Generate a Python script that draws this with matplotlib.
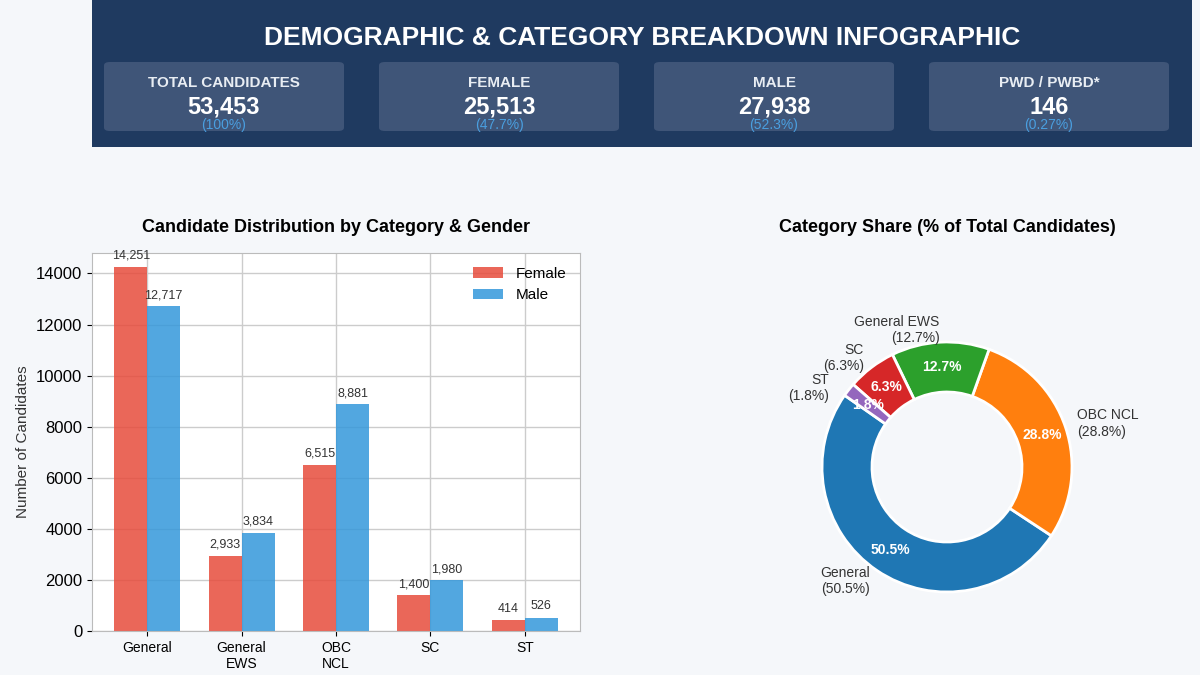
import numpy as np
import matplotlib.pyplot as plt
from matplotlib.patches import FancyBboxPatch, Rectangle

categories = ["General", "General\nEWS", "OBC\nNCL", "SC", "ST"]
pie_names = ["General", "General EWS", "OBC NCL", "SC", "ST"]
female = [14251, 2933, 6515, 1400, 414]
male = [12717, 3834, 8881, 1980, 526]
cards = [("TOTAL CANDIDATES", "53,453", "(100%)"),
         ("FEMALE", "25,513", "(47.7%)"),
         ("MALE", "27,938", "(52.3%)"),
         ("PWD / PWBD*", "146", "(0.27%)")]

plt.rcParams['font.family'] = ['Liberation Sans', 'DejaVu Sans']
fig = plt.figure(figsize=(12, 6.75), dpi=100)
fig.patch.set_facecolor("#f5f7fa")
W, H = 1200, 675

def fx(x): return x / W
def fy(y): return 1 - y / H

fig.patches.append(Rectangle((fx(92), fy(147)), fx(1100), 147 / H, transform=fig.transFigure,
                             facecolor="#1f3a60", edgecolor="none"))
fig.text(fx(642), fy(38), "DEMOGRAPHIC & CATEGORY BREAKDOWN INFOGRAPHIC", color="white",
         fontsize=19, fontweight="bold", ha="center", va="center")
for i, (t, v, p) in enumerate(cards):
    x0 = 104 + i * 275
    fig.patches.append(FancyBboxPatch((fx(x0), fy(131)), fx(240), 69 / H, transform=fig.transFigure,
                                      boxstyle="round,pad=0,rounding_size=0.005",
                                      facecolor="#3f5578", edgecolor="none"))
    cx = fx(x0 + 120)
    fig.text(cx, fy(83), t, color="#e8edf3", fontsize=11, fontweight="bold", ha="center", va="center")
    fig.text(cx, fy(107), v, color="white", fontsize=17, fontweight="bold", ha="center", va="center")
    fig.text(cx, fy(125), p, color="#4a9fe0", fontsize=10, ha="center", va="center")

# bar chart
ax = fig.add_axes([fx(92), fy(631), fx(488), (631 - 253) / H])
ax.set_facecolor("white")
x = np.arange(len(categories))
w = 0.35
b1 = ax.bar(x - w / 2, female, w, color="#e74c3c", alpha=0.85, label="Female")
b2 = ax.bar(x + w / 2, male, w, color="#3498db", alpha=0.85, label="Male")
for bars in (b1, b2):
    for b in bars:
        ax.text(b.get_x() + b.get_width() / 2, b.get_height() + 200, f"{int(b.get_height()):,}",
                ha="center", va="bottom", fontsize=9, color="#333333")
ax.set_xticks(x)
ax.set_xticklabels(categories, fontsize=10)
ax.set_ylim(0, 14800)
ax.set_yticks(range(0, 14001, 2000))
ax.tick_params(axis="y", labelsize=12)
ax.set_ylabel("Number of Candidates", fontsize=11, color="#333333")
ax.grid(True, color="#cccccc", linewidth=1)
ax.set_axisbelow(True)
for s in ax.spines.values():
    s.set_color("#bbbbbb")
fig.text(fx(336), fy(227), "Candidate Distribution by Category & Gender", fontsize=13,
         fontweight="bold", ha="center", va="center")
ax.legend(loc="upper right", fontsize=11, frameon=False)

# donut
totals = [f + m for f, m in zip(female, male)]
R = 160
pax = fig.add_axes([fx(947 - R), fy(467 + R), fx(2 * R), 2 * R / H])
colors = ["#1f77b4", "#ff7f0e", "#2ca02c", "#d62728", "#9467bd"]
order = [0, 2, 1, 3, 4]  # General, OBC NCL, General EWS, SC, ST
vals = [totals[i] for i in order]
labs = [f"{pie_names[i]}\n({totals[i] / sum(totals) * 100:.1f}%)" for i in order]
wedges, texts, autotexts = pax.pie(vals, labels=labs, colors=colors, startangle=145,
                                   autopct="%1.1f%%", pctdistance=0.8, labeldistance=1.1,
                                   wedgeprops=dict(width=0.4, edgecolor="white", linewidth=2),
                                   textprops=dict(fontsize=10, color="#333333"))
pax.set_xlim(-1.28, 1.28)
pax.set_ylim(-1.28, 1.28)
for t in autotexts:
    t.set_color("white")
    t.set_fontweight("bold")
tx, ty = texts[4].get_position()
texts[4].set_position((tx - 0.08, ty - 0.05))
fig.text(fx(947), fy(227), "Category Share (% of Total Candidates)", fontsize=13,
         fontweight="bold", ha="center", va="center")

fig.savefig("out.png", dpi=100, facecolor=fig.get_facecolor())
